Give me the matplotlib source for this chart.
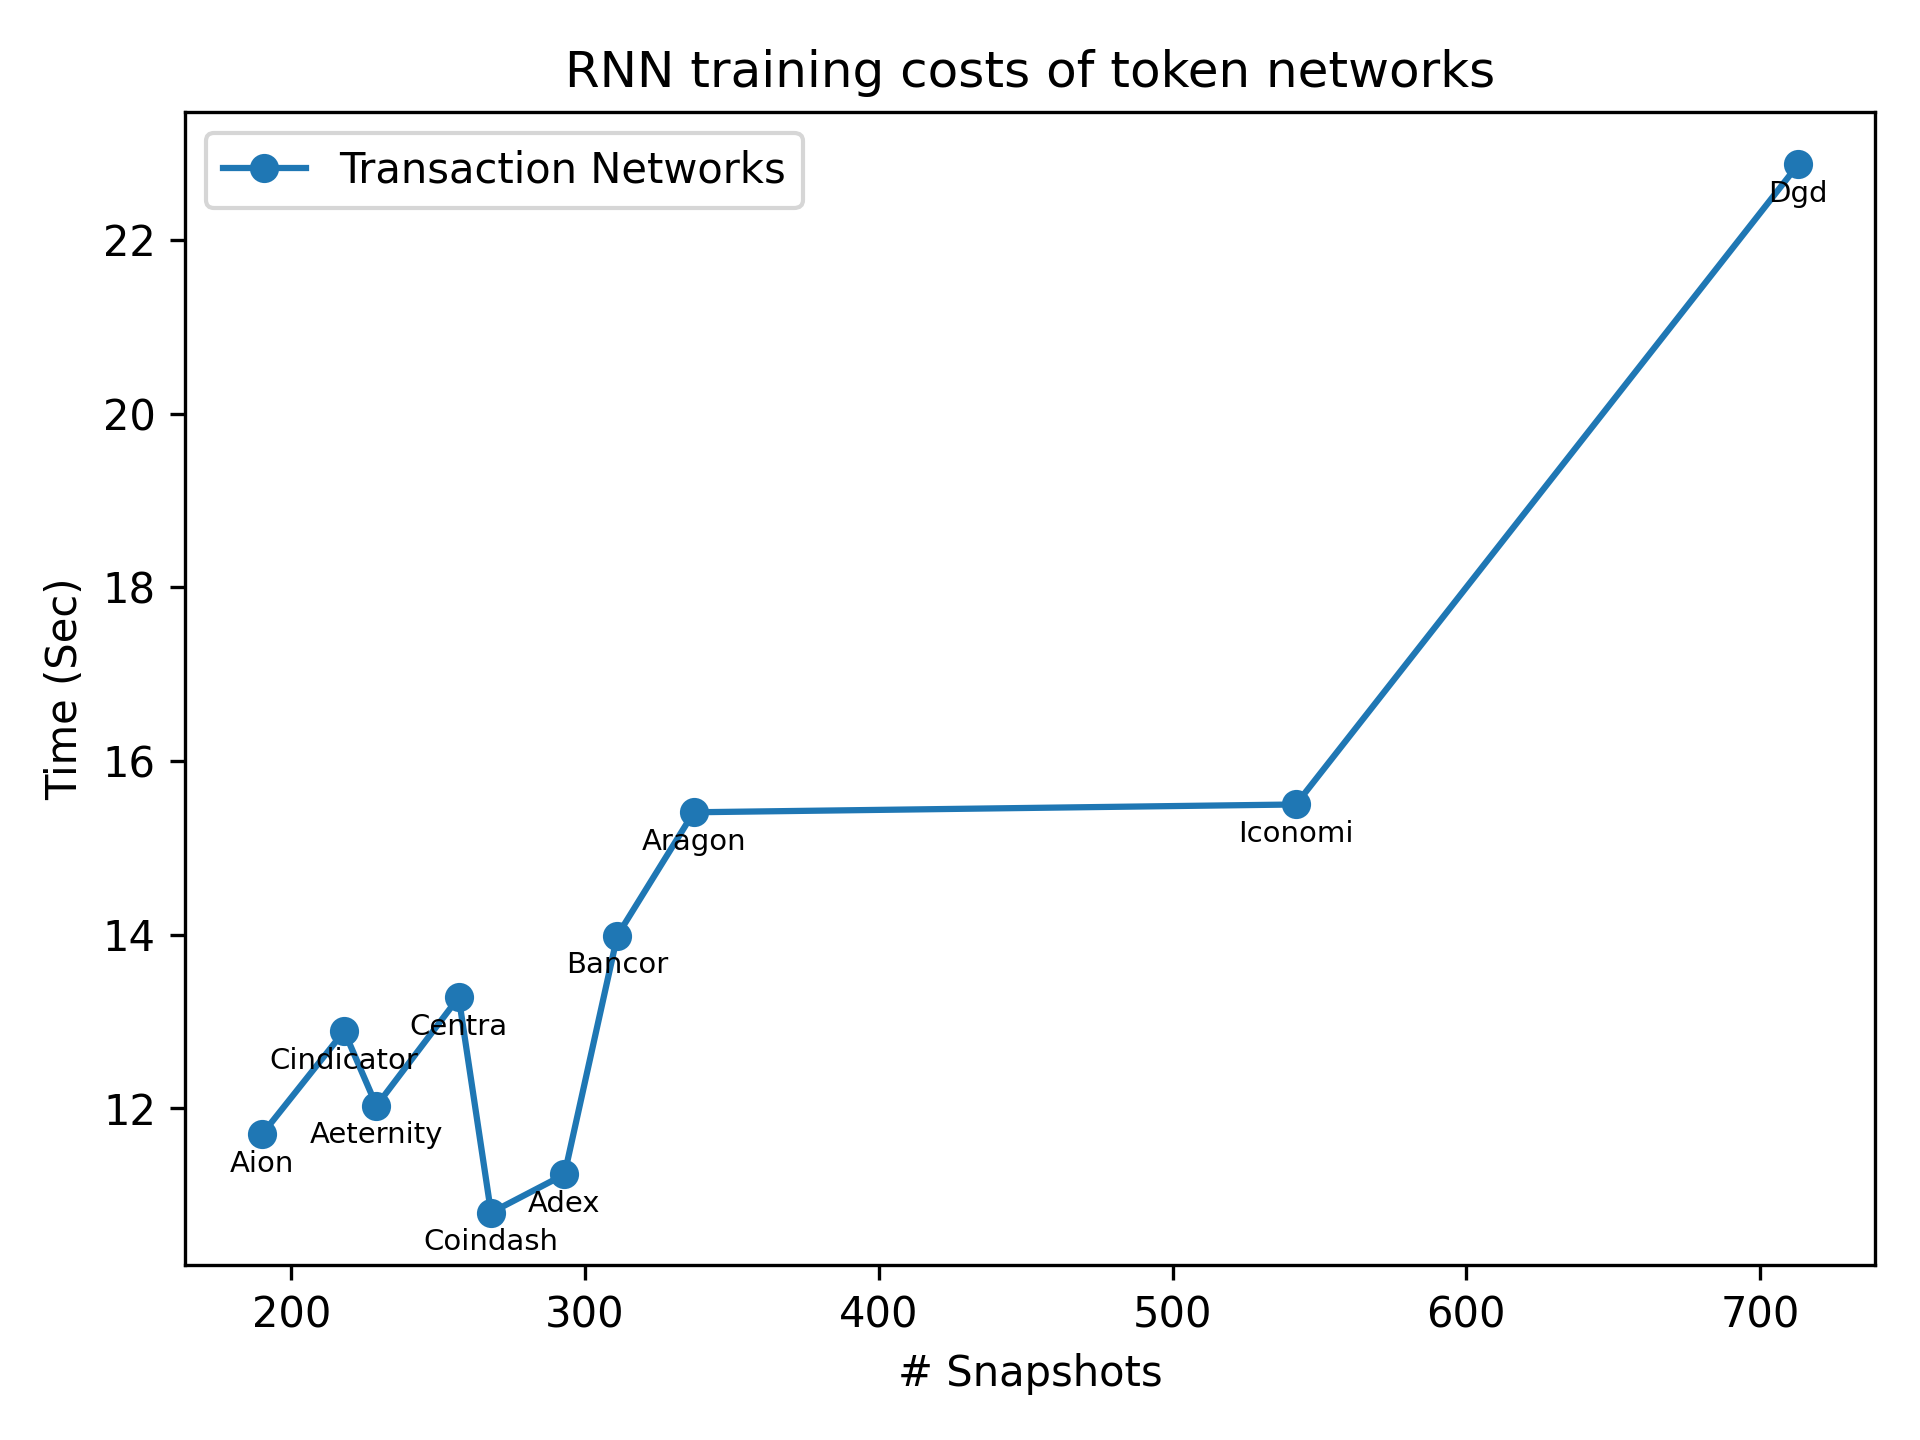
import matplotlib
matplotlib.use("Agg")
import matplotlib.pyplot as plt

# token networks, sorted by number of snapshots
tokens = ['Aion', 'Cindicator', 'Aeternity', 'Centra', 'Coindash', 'Adex',
          'Bancor', 'Aragon', 'Iconomi', 'Dgd']
snapshots = [190, 218, 229, 257, 268, 293, 311, 337, 542, 713]
times = [11.70, 12.89, 12.03, 13.28, 10.80, 11.24, 13.99, 15.41, 15.50, 22.87]

plt.figure(figsize=(6.4, 4.8), dpi=300)
plt.plot(snapshots, times, marker='o', label='Transaction Networks')
for name, x, y in zip(tokens, snapshots, times):
    plt.annotate(name, (x, y), xytext=(0, -9), textcoords='offset points',
                 ha='center', fontsize=7)

plt.xlabel("# Snapshots")
plt.ylabel("Time (Sec)")
plt.title("RNN training costs of token networks")
plt.legend(loc='upper left')
plt.subplots_adjust(left=0.0964, right=0.9766, top=0.9222, bottom=0.1215)
plt.savefig('out.png', dpi=300)
